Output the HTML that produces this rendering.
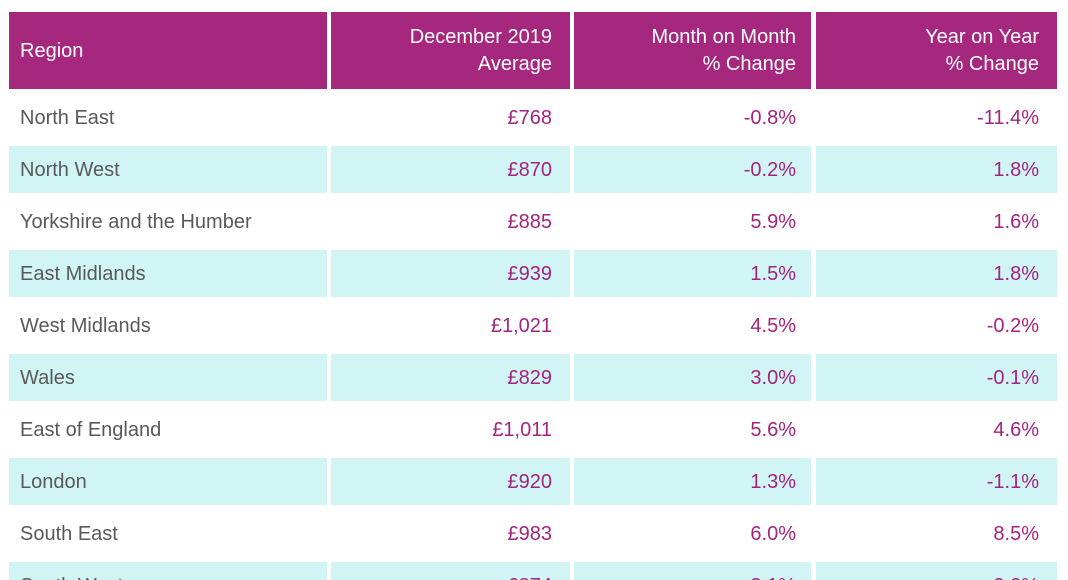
<!DOCTYPE html>
<html>
<head>
<meta charset="utf-8">
<style>
  html,body{margin:0;padding:0;background:#fff;width:1068px;height:580px;overflow:hidden;}
  body{position:relative;font-family:"Liberation Sans",Arial,sans-serif;}
  .c{position:absolute;box-sizing:border-box;font-size:20px;height:47px;}
  .h{background:#A5277E;color:#fff;height:77px;top:12px;}
  .cy{background:#D0F5F4;}
  .t{position:absolute;white-space:nowrap;line-height:24px;}
  .g{color:#595959;left:11px;top:12px;}
  .p{color:#A3237F;top:12px;right:18px;}
  .p3{color:#A3237F;top:12px;right:15px;}
  .c1{left:9px;width:318px;}
  .c2{left:331px;width:239px;}
  .c3{left:574px;width:237px;}
  .c4{left:816px;width:241px;}
</style>
</head>
<body>
<!-- header -->
<div class="c h c1"><span class="t" style="left:11px;top:27px;">Region</span></div>
<div class="c h c2"><span class="t" style="right:18px;top:13px;">December 2019</span><span class="t" style="right:18px;top:40px;">Average</span></div>
<div class="c h c3"><span class="t" style="right:15px;top:13px;">Month on Month</span><span class="t" style="right:15px;top:40px;">% Change</span></div>
<div class="c h c4"><span class="t" style="right:18px;top:13px;">Year on Year</span><span class="t" style="right:18px;top:40px;">% Change</span></div>

<!-- row 1 -->
<div class="c c1" style="top:94px;"><span class="t g">North East</span></div>
<div class="c c2" style="top:94px;"><span class="t p">£768</span></div>
<div class="c c3" style="top:94px;"><span class="t p3">-0.8%</span></div>
<div class="c c4" style="top:94px;"><span class="t p">-11.4%</span></div>
<!-- row 2 -->
<div class="c cy c1" style="top:146px;"><span class="t g">North West</span></div>
<div class="c cy c2" style="top:146px;"><span class="t p">£870</span></div>
<div class="c cy c3" style="top:146px;"><span class="t p3">-0.2%</span></div>
<div class="c cy c4" style="top:146px;"><span class="t p">1.8%</span></div>
<!-- row 3 -->
<div class="c c1" style="top:198px;"><span class="t g">Yorkshire and the Humber</span></div>
<div class="c c2" style="top:198px;"><span class="t p">£885</span></div>
<div class="c c3" style="top:198px;"><span class="t p3">5.9%</span></div>
<div class="c c4" style="top:198px;"><span class="t p">1.6%</span></div>
<!-- row 4 -->
<div class="c cy c1" style="top:250px;"><span class="t g">East Midlands</span></div>
<div class="c cy c2" style="top:250px;"><span class="t p">£939</span></div>
<div class="c cy c3" style="top:250px;"><span class="t p3">1.5%</span></div>
<div class="c cy c4" style="top:250px;"><span class="t p">1.8%</span></div>
<!-- row 5 -->
<div class="c c1" style="top:302px;"><span class="t g">West Midlands</span></div>
<div class="c c2" style="top:302px;"><span class="t p">£1,021</span></div>
<div class="c c3" style="top:302px;"><span class="t p3">4.5%</span></div>
<div class="c c4" style="top:302px;"><span class="t p">-0.2%</span></div>
<!-- row 6 -->
<div class="c cy c1" style="top:354px;"><span class="t g">Wales</span></div>
<div class="c cy c2" style="top:354px;"><span class="t p">£829</span></div>
<div class="c cy c3" style="top:354px;"><span class="t p3">3.0%</span></div>
<div class="c cy c4" style="top:354px;"><span class="t p">-0.1%</span></div>
<!-- row 7 -->
<div class="c c1" style="top:406px;"><span class="t g">East of England</span></div>
<div class="c c2" style="top:406px;"><span class="t p">£1,011</span></div>
<div class="c c3" style="top:406px;"><span class="t p3">5.6%</span></div>
<div class="c c4" style="top:406px;"><span class="t p">4.6%</span></div>
<!-- row 8 -->
<div class="c cy c1" style="top:458px;"><span class="t g">London</span></div>
<div class="c cy c2" style="top:458px;"><span class="t p">£920</span></div>
<div class="c cy c3" style="top:458px;"><span class="t p3">1.3%</span></div>
<div class="c cy c4" style="top:458px;"><span class="t p">-1.1%</span></div>
<!-- row 9 -->
<div class="c c1" style="top:510px;"><span class="t g">South East</span></div>
<div class="c c2" style="top:510px;"><span class="t p">£983</span></div>
<div class="c c3" style="top:510px;"><span class="t p3">6.0%</span></div>
<div class="c c4" style="top:510px;"><span class="t p">8.5%</span></div>
<!-- row 10 -->
<div class="c cy c1" style="top:562px;"><span class="t g">South West</span></div>
<div class="c cy c2" style="top:562px;"><span class="t p">£874</span></div>
<div class="c cy c3" style="top:562px;"><span class="t p3">3.1%</span></div>
<div class="c cy c4" style="top:562px;"><span class="t p">2.2%</span></div>
</body>
</html>
